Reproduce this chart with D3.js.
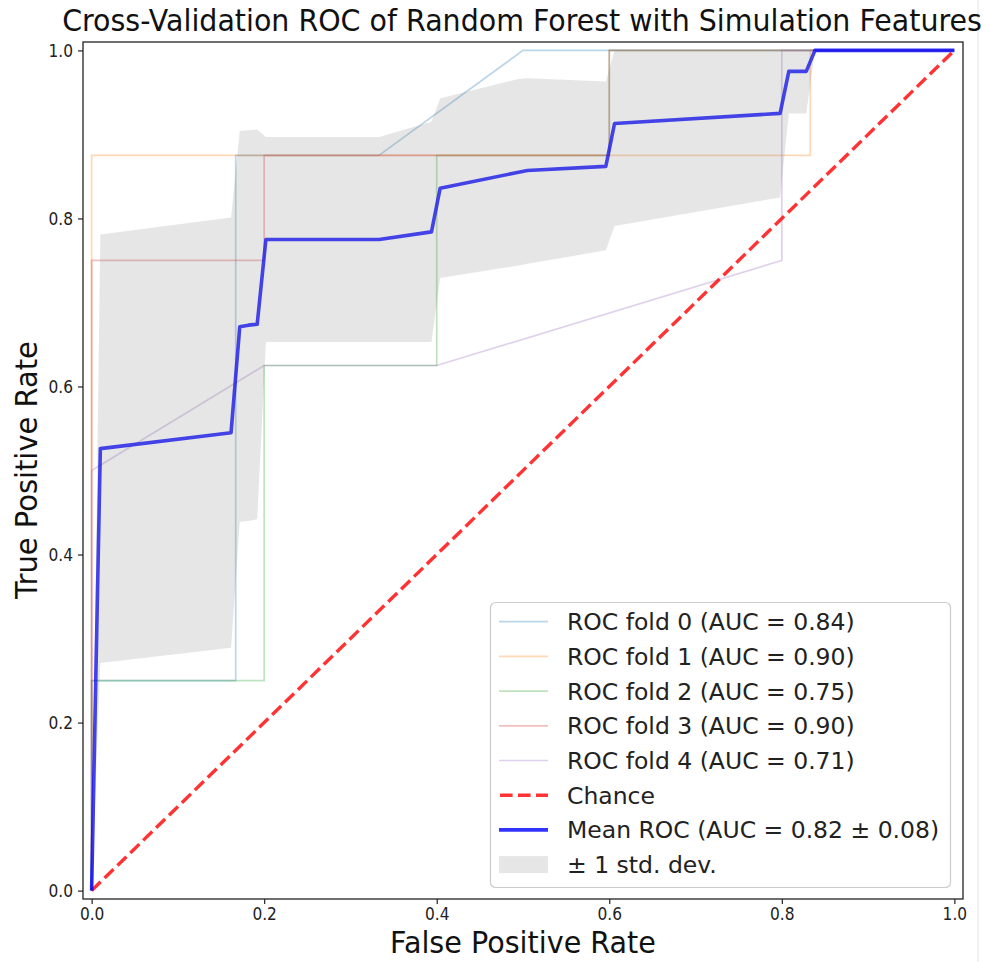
<!DOCTYPE html>
<html>
<head>
<meta charset="utf-8">
<script src="https://cdn.jsdelivr.net/npm/d3@7"></script>
<style>
  html, body { margin: 0; padding: 0; background: #fff; }
  svg text { font-family: "DejaVu Sans", sans-serif; }
</style>
</head>
<body>
<svg id="chart" width="990" height="962"></svg>
<script>
// ROC points of each CV fold [fpr, tpr]
const fold0 = [[0, 0], [0, 0.25], [0.167, 0.25], [0.167, 0.875], [0.333, 0.875], [0.5, 1], [1, 1]]
const fold1 = [[0, 0], [0, 0.875], [0.833, 0.875], [0.833, 1], [1, 1]]
const fold2 = [[0, 0], [0, 0.25], [0.2, 0.25], [0.2, 0.625], [0.4, 0.625], [0.4, 0.875], [0.6, 0.875], [0.6, 1], [1, 1]]
const fold3 = [[0, 0], [0, 0.75], [0.2, 0.75], [0.2, 0.875], [0.6, 0.875], [0.6, 1], [1, 1]]
const fold4 = [[0, 0], [0, 0.5], [0.2, 0.625], [0.4, 0.625], [0.8, 0.75], [0.8, 1], [1, 1]]
const foldLabels = ['ROC fold 0 (AUC = 0.84)', 'ROC fold 1 (AUC = 0.90)', 'ROC fold 2 (AUC = 0.75)', 'ROC fold 3 (AUC = 0.90)', 'ROC fold 4 (AUC = 0.71)']

// mean ROC and the +-1 std band
const meanFpr = [0, 0.0101, 0.1616, 0.1717, 0.1818, 0.1919, 0.2020, 0.3333, 0.3939, 0.4040, 0.4949, 0.5051, 0.5960, 0.6061, 0.7980, 0.8081, 0.8283, 0.8384, 1]
const meanTpr = [0, 0.526, 0.545, 0.671, 0.673, 0.674, 0.775, 0.775, 0.784, 0.836, 0.855, 0.857, 0.862, 0.913, 0.925, 0.975, 0.975, 1, 1]
const upperTpr = [0, 0.781, 0.801, 0.904, 0.905, 0.906, 0.897, 0.897, 0.915, 0.943, 0.966, 0.967, 0.963, 1, 1, 1, 1, 1, 1]
const lowerTpr = [0, 0.271, 0.289, 0.439, 0.440, 0.442, 0.653, 0.653, 0.653, 0.729, 0.744, 0.746, 0.762, 0.791, 0.825, 0.925, 0.925, 1, 1]

const chance = [[0, 0], [1, 1]]
const ticks = [0, 0.2, 0.4, 0.6, 0.8, 1.0]

const folds = [fold0, fold1, fold2, fold3, fold4]
const foldColors = ['#1f77b4', '#ff7f0e', '#2ca02c', '#d62728', '#9467bd']

const svg = d3.select('#chart')
const x = d3.scaleLinear().domain([-0.01, 1.01]).range([83, 963])
const y = d3.scaleLinear().domain([-0.01, 1.01]).range([899, 42])

// the reference font is narrow: squeeze a text to a given width with a scale
function narrowText(parent, str, cx, cy, size, width, rotate) {
  const g = parent.append('g')
  const t = g.append('text').attr('text-anchor', 'middle')
    .style('font-size', size + 'px').attr('fill', '#111').text(str)
  const k = width / t.node().getComputedTextLength()
  g.attr('transform', `translate(${cx},${cy})` + (rotate ? ' rotate(-90)' : '') + ` scale(${k},1)`)
  return g
}

// viewer edge line at the right
svg.append('line').attr('x1', 978).attr('x2', 978).attr('y1', 0).attr('y2', 962)
  .attr('stroke', '#e4e4e4').attr('stroke-width', 1)

const line = d3.line().x(d => x(d[0])).y(d => y(d[1]))

const plot = svg.append('g')
plot.append('defs').append('clipPath').attr('id', 'clip')
  .append('rect').attr('x', 83).attr('y', 42).attr('width', 880).attr('height', 857)
const inner = plot.append('g').attr('clip-path', 'url(#clip)')

folds.forEach((f, i) => {
  inner.append('path').datum(f)
    .attr('fill', 'none').attr('stroke', foldColors[i]).attr('stroke-opacity', 0.3)
    .attr('stroke-width', 1.7).attr('d', line)
})

inner.append('path').datum(chance)
  .attr('fill', 'none').attr('stroke', '#ff0000').attr('stroke-opacity', 0.8)
  .attr('stroke-width', 3.4).attr('stroke-dasharray', '12.6,5.4').attr('d', line)

const meanPts = meanFpr.map((v, i) => [v, meanTpr[i]])
inner.append('path').datum(meanPts)
  .attr('fill', 'none').attr('stroke', '#0000ff').attr('stroke-opacity', 0.8)
  .attr('stroke-width', 3.6).attr('stroke-linejoin', 'round').attr('d', line)

const area = d3.area().x((d, i) => x(meanFpr[i])).y0((d, i) => y(lowerTpr[i])).y1((d, i) => y(upperTpr[i]))
inner.append('path').datum(meanFpr)
  .attr('fill', '#808080').attr('fill-opacity', 0.2).attr('d', area)

// axes
const xAxis = d3.axisBottom(x).tickValues(ticks).tickFormat(d3.format('.1f')).tickSize(5).tickSizeOuter(0)
const yAxis = d3.axisLeft(y).tickValues(ticks).tickFormat(d3.format('.1f')).tickSize(5).tickSizeOuter(0)
const gx = svg.append('g').attr('transform', 'translate(0,899)').call(xAxis)
const gy = svg.append('g').attr('transform', 'translate(83,0)').call(yAxis)
;[gx, gy].forEach(g => {
  g.select('.domain').remove()
  g.selectAll('.tick line').attr('stroke', '#222').attr('stroke-width', 1.2)
  g.selectAll('.tick text').attr('fill', '#222').style('font-size', '17px')
    .attr('textLength', 24.5).attr('lengthAdjust', 'spacingAndGlyphs')
})
gx.selectAll('.tick text').attr('y', 9).attr('dy', '0.71em')
gy.selectAll('.tick text').attr('x', -10).attr('dy', '0.36em')

// frame
svg.append('rect').attr('x', 83).attr('y', 42).attr('width', 880).attr('height', 857)
  .attr('fill', 'none').attr('stroke', '#222').attr('stroke-width', 1.3)

// labels
narrowText(svg, 'Cross-Validation ROC of Random Forest with Simulation Features', 522, 31, 29.5, 920, false)
narrowText(svg, 'False Positive Rate', 523, 953, 29.5, 266, false)
narrowText(svg, 'True Positive Rate', 37, 470, 29.5, 258, true)

// legend
const lg = svg.append('g')
lg.append('rect').attr('x', 490.5).attr('y', 602.5).attr('width', 460).attr('height', 285).attr('rx', 5)
  .attr('fill', '#fff').attr('fill-opacity', 0.8).attr('stroke', '#cccccc').attr('stroke-width', 1.2)
const legendItems = foldLabels.map((t, i) => ({ text: t, kind: 'fold', color: foldColors[i] }))
  .concat([
    { text: 'Chance', kind: 'chance' },
    { text: 'Mean ROC (AUC = 0.82 \u00b1 0.08)', kind: 'mean' },
    { text: '\u00b1 1 std. dev.', kind: 'band' }
  ])
legendItems.forEach((d, i) => {
  const cy = 621.7 + i * 34.7
  if (d.kind === 'fold') {
    lg.append('line').attr('x1', 499).attr('x2', 548).attr('y1', cy).attr('y2', cy)
      .attr('stroke', d.color).attr('stroke-opacity', 0.3).attr('stroke-width', 1.7)
  } else if (d.kind === 'chance') {
    lg.append('line').attr('x1', 500).attr('x2', 548).attr('y1', cy).attr('y2', cy)
      .attr('stroke', '#ff0000').attr('stroke-opacity', 0.8).attr('stroke-width', 3.4).attr('stroke-dasharray', '12.6,5.4')
  } else if (d.kind === 'mean') {
    lg.append('line').attr('x1', 499).attr('x2', 548).attr('y1', cy).attr('y2', cy)
      .attr('stroke', '#0000ff').attr('stroke-opacity', 0.8).attr('stroke-width', 3.6)
  } else {
    lg.append('rect').attr('x', 499).attr('y', cy - 8.5).attr('width', 49).attr('height', 17)
      .attr('fill', '#808080').attr('fill-opacity', 0.2)
  }
  lg.append('text').attr('x', 567).attr('y', cy).attr('dy', '0.36em')
    .style('font-size', '23.5px').attr('fill', '#222').text(d.text)
})
</script>
</body>
</html>
